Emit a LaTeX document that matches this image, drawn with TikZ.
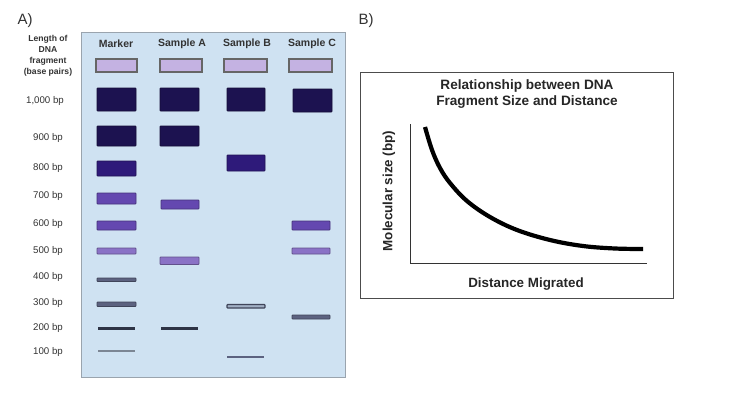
\documentclass[tikz,border=0pt]{standalone}
\usepackage{fontspec}
\setmainfont{Liberation Sans}
\definecolor{gelbg}{HTML}{CFE2F2}
\definecolor{gelborder}{HTML}{9AA4AE}
\definecolor{navy}{HTML}{1C1250}
\definecolor{deep}{HTML}{2E1A7A}
\definecolor{mid}{HTML}{6448B0}
\definecolor{light}{HTML}{8A72C6}
\definecolor{wellfill}{HTML}{C4B2E2}
\definecolor{slate}{HTML}{5C6280}
\definecolor{greyline}{HTML}{7C8694}
\definecolor{darkline}{HTML}{2E3446}
\definecolor{txt}{HTML}{333333}
\tikzset{
  x=1pt,y=-1pt,
  wellbox/.style={draw=gray!80!black,line width=1.6pt,fill=wellfill},
  bandbox/.style={draw=#1!70!black,line width=0.9pt,fill=#1,rounded corners=0.8pt},
  thinline/.style={draw=#1,line width=2.2pt},
  lbl/.style={font=\fontsize{9.7}{11}\selectfont,text=txt},
  hdr/.style={font=\bfseries\fontsize{10.5}{12}\selectfont,text=txt},
  small/.style={font=\bfseries\fontsize{8.6}{11}\selectfont,text=txt,align=center},
  panel/.style={font=\fontsize{15}{17}\selectfont,text=txt},
  title/.style={font=\bfseries\fontsize{13.6}{16}\selectfont,text=black!85,align=center},
  axislbl/.style={font=\bfseries\fontsize{13.4}{15}\selectfont,text=black!85}
}
\begin{document}
\begin{tikzpicture}
\useasboundingbox (0,0) rectangle (743,399);
% Panel labels
\node[panel] (pa) at (25,21) {A)};
\node[panel] (pb) at (366,21) {B)};
% gel
\draw[draw=gelborder,line width=1pt,fill=gelbg] (81,32) rectangle (345,377);
\node[small] (len) at (48,55.5) {Length of\\DNA\\fragment\\(base pairs)};
\node[hdr] (hm) at (116,44) {Marker};
\node[hdr] (ha) at (182,44) {Sample A};
\node[hdr] (hb) at (247,44) {Sample B};
\node[hdr] (hc) at (312,44) {Sample C};
% wells
\draw[wellbox] (96,59) rectangle (137,72);
\draw[wellbox] (160,59) rectangle (202,72);
\draw[wellbox] (224,59) rectangle (267,72);
\draw[wellbox] (289,59) rectangle (332,72);
% size labels
\node[lbl] (l1000) at (45,101) {1,000 bp};
\node[lbl] (l900) at (48,138) {900 bp};
\node[lbl] (l800) at (48,168) {800 bp};
\node[lbl] (l700) at (48,196) {700 bp};
\node[lbl] (l600) at (48,224) {600 bp};
\node[lbl] (l500) at (48,251) {500 bp};
\node[lbl] (l400) at (48,277) {400 bp};
\node[lbl] (l300) at (48,303) {300 bp};
\node[lbl] (l200) at (48,328) {200 bp};
\node[lbl] (l100) at (48,352) {100 bp};
% marker lane
\draw[bandbox=navy] (97,88) rectangle (136,111);
\draw[bandbox=navy] (97,126) rectangle (136,146);
\draw[bandbox=deep] (97,161) rectangle (136,176);
\draw[bandbox=mid] (97,193) rectangle (136,204);
\draw[bandbox=mid] (97,221) rectangle (136,230);
\draw[bandbox=light] (97,248) rectangle (136,254);
\draw[bandbox=slate] (97,278) rectangle (136,281.5);
\draw[bandbox=slate] (97,302) rectangle (136,306.5);
\draw[thinline=darkline] (98,328.5) -- (135,328.5);
\draw[thinline=greyline,line width=1.6pt] (98,351) -- (135,351);
% sample A
\draw[bandbox=navy] (160,88) rectangle (199,111);
\draw[bandbox=navy] (160,126) rectangle (199,146);
\draw[bandbox=mid] (161,200) rectangle (199,209);
\draw[bandbox=light] (160,257) rectangle (199,264.5);
\draw[thinline=darkline] (161,328.5) -- (198,328.5);
% sample B
\draw[bandbox=navy] (227,88) rectangle (265,111);
\draw[bandbox=deep] (227,155) rectangle (265,171);
\draw[draw=slate!70!black,line width=1.2pt,fill=gelbg!60!slate,rounded corners=0.8pt] (227,304.5) rectangle (265,308);
\draw[thinline=slate,line width=1.6pt] (227,357) -- (264,357);
% sample C
\draw[bandbox=navy] (293,89) rectangle (332,112);
\draw[bandbox=mid] (292,221) rectangle (330,230);
\draw[bandbox=light] (292,248) rectangle (330,254);
\draw[bandbox=slate] (292,315) rectangle (330,319);
% panel B
\draw[draw=gray!60!black,line width=1pt] (360,72) rectangle (673,298);
\node[title] (tt) at (527,94) {Relationship between DNA\\Fragment Size and Distance};
\coordinate (ytop) at (410,124);
\coordinate (orig) at (410,263);
\coordinate (xend) at (647,263);
\draw[line width=1pt,black!80] (ytop) -- (orig) -- (xend);
\node[axislbl,rotate=90] (yl) at (389,191) {Molecular size (bp)};
\node[axislbl] (xl) at (526,284) {Distance Migrated};
\draw[line width=4.2pt] plot[smooth,tension=0.6] coordinates {(425,127) (432,150) (440,168) (450,183) (467,201) (490,217) (517,230) (550,240) (583,246) (615,248.5) (643,249)};
\end{tikzpicture}
\end{document}
